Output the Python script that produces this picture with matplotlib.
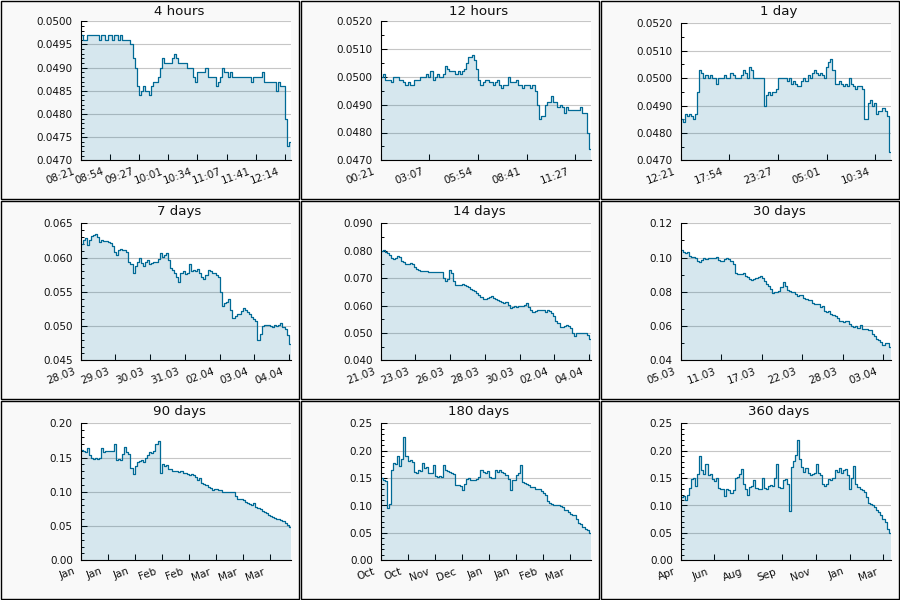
#!/usr/bin/env python3

"""Nine-panel price history grid (4 hours .. 360 days)."""

import matplotlib
matplotlib.use('Agg')
import matplotlib.pyplot as plt
import numpy as np
from matplotlib.patches import Rectangle
from matplotlib.ticker import FixedLocator, MultipleLocator, FormatStrFormatter
from matplotlib.transforms import ScaledTranslation

LINE = '#006a96'
PANEL_BG = '#f9f9f9'

titles = ['4 hours', '12 hours', '1 day', '7 days', '14 days', '30 days',
          '90 days', '180 days', '360 days']

# span of each panel and spacing of its x ticks, in seconds
durations = [14400, 43200, 86400, 604800, 1209600, 2592000,
             7776000, 15552000, 31104000]
tick_steps = [2000, 10000, 20000, 100000, 200000, 500000,
              1000000, 2000000, 5000000]

xlabels = [
    ['08:21', '08:54', '09:27', '10:01', '10:34', '11:07', '11:41', '12:14'],
    ['00:21', '03:07', '05:54', '08:41', '11:27'],
    ['12:21', '17:54', '23:27', '05:01', '10:34'],
    ['28.03', '29.03', '30.03', '31.03', '02.04', '03.04', '04.04'],
    ['21.03', '23.03', '26.03', '28.03', '30.03', '02.04', '04.04'],
    ['05.03', '11.03', '17.03', '22.03', '28.03', '03.04'],
    ['Jan', 'Jan', 'Jan', 'Feb', 'Feb', 'Mar', 'Mar', 'Mar'],
    ['Oct', 'Oct', 'Nov', 'Dec', 'Jan', 'Jan', 'Feb', 'Mar'],
    ['Apr', 'Jun', 'Aug', 'Sep', 'Nov', 'Jan', 'Mar'],
]

ylims = [(0.0470, 0.0500), (0.0470, 0.0520), (0.0470, 0.0520),
         (0.045, 0.065), (0.040, 0.090), (0.04, 0.12),
         (0.00, 0.20), (0.00, 0.25), (0.00, 0.25)]
ymajor = [0.0005, 0.0010, 0.0010, 0.005, 0.010, 0.02, 0.05, 0.05, 0.05]
yminor = [0.0001, 0.0005, 0.0005, 0.001, 0.005, 0.01, 0.01, 0.01, 0.01]
yfmt = ['%.4f', '%.4f', '%.4f', '%.3f', '%.3f', '%.2f', '%.2f', '%.2f', '%.2f']

v4h = [0.0497, 0.0496, 0.0496, 0.0497, 0.0497, 0.0497, 0.0497, 0.0497, 0.0497, 0.0496,
       0.0497, 0.0497, 0.0496, 0.0497, 0.0497, 0.0496, 0.0497, 0.0497, 0.0496, 0.0497,
       0.0496, 0.0496, 0.0496, 0.0496, 0.0495, 0.0492, 0.0490, 0.0486, 0.0484, 0.0485,
       0.0486, 0.0485, 0.0485, 0.0484, 0.0486, 0.0487, 0.0487, 0.0488, 0.0490, 0.0492,
       0.0491, 0.0491, 0.0491, 0.0491, 0.0492, 0.0493, 0.0492, 0.0491, 0.0491, 0.0491,
       0.0491, 0.0490, 0.0490, 0.0490, 0.0488, 0.0487, 0.0489, 0.0489, 0.0489, 0.0489,
       0.0490, 0.0488, 0.0488, 0.0488, 0.0488, 0.0486, 0.0487, 0.0488, 0.0490, 0.0489,
       0.0489, 0.0488, 0.0489, 0.0488, 0.0488, 0.0488, 0.0488, 0.0488, 0.0488, 0.0488,
       0.0488, 0.0488, 0.0487, 0.0488, 0.0488, 0.0488, 0.0488, 0.0489, 0.0487, 0.0487,
       0.0487, 0.0487, 0.0487, 0.0487, 0.0485, 0.0487, 0.0486, 0.0486, 0.0479, 0.0473,
       0.0474]

v12h = [0.0500, 0.0501, 0.0499, 0.0499, 0.0499, 0.0498, 0.0500, 0.0500, 0.0500, 0.0499,
        0.0499, 0.0498, 0.0497, 0.0498, 0.0497, 0.0497, 0.0499, 0.0499, 0.0499, 0.0500,
        0.0500, 0.0500, 0.0501, 0.0500, 0.0502, 0.0499, 0.0500, 0.0501, 0.0500, 0.0500,
        0.0501, 0.0504, 0.0503, 0.0502, 0.0502, 0.0502, 0.0501, 0.0502, 0.0501, 0.0502,
        0.0503, 0.0505, 0.0507, 0.0507, 0.0508, 0.0506, 0.0503, 0.0499, 0.0497, 0.0498,
        0.0499, 0.0499, 0.0498, 0.0498, 0.0497, 0.0498, 0.0499, 0.0497, 0.0496, 0.0497,
        0.0497, 0.0500, 0.0498, 0.0498, 0.0498, 0.0499, 0.0497, 0.0497, 0.0496, 0.0497,
        0.0497, 0.0497, 0.0496, 0.0497, 0.0495, 0.0490, 0.0485, 0.0486, 0.0486, 0.0490,
        0.0491, 0.0491, 0.0493, 0.0491, 0.0491, 0.0489, 0.0490, 0.0489, 0.0487, 0.0489,
        0.0488, 0.0488, 0.0488, 0.0488, 0.0488, 0.0488, 0.0489, 0.0487, 0.0487, 0.0480,
        0.0474]

v1d = [0.0485, 0.0484, 0.0487, 0.0486, 0.0487, 0.0486, 0.0485, 0.0487, 0.0495, 0.0503,
       0.0502, 0.0500, 0.0501, 0.0500, 0.0501, 0.0500, 0.0500, 0.0498, 0.0500, 0.0500,
       0.0500, 0.0501, 0.0500, 0.0500, 0.0502, 0.0501, 0.0500, 0.0500, 0.0500, 0.0501,
       0.0503, 0.0502, 0.0500, 0.0504, 0.0503, 0.0500, 0.0500, 0.0500, 0.0500, 0.0500,
       0.0490, 0.0494, 0.0495, 0.0494, 0.0495, 0.0495, 0.0496, 0.0500, 0.0500, 0.0500,
       0.0500, 0.0499, 0.0500, 0.0498, 0.0499, 0.0498, 0.0497, 0.0497, 0.0499, 0.0500,
       0.0499, 0.0501, 0.0500, 0.0502, 0.0503, 0.0502, 0.0501, 0.0502, 0.0501, 0.0500,
       0.0504, 0.0506, 0.0507, 0.0503, 0.0498, 0.0498, 0.0499, 0.0498, 0.0497, 0.0498,
       0.0497, 0.0500, 0.0498, 0.0497, 0.0496, 0.0497, 0.0497, 0.0496, 0.0485, 0.0485,
       0.0491, 0.0492, 0.0490, 0.0491, 0.0487, 0.0488, 0.0488, 0.0489, 0.0488, 0.0486,
       0.0473]

v7d = [0.0620, 0.0625, 0.0628, 0.0618, 0.0625, 0.0632, 0.0633, 0.0634, 0.0630, 0.0623,
       0.0625, 0.0624, 0.0624, 0.0622, 0.0621, 0.0617, 0.0608, 0.0604, 0.0611, 0.0612,
       0.0611, 0.0611, 0.0608, 0.0594, 0.0590, 0.0577, 0.0588, 0.0593, 0.0599, 0.0592,
       0.0587, 0.0594, 0.0597, 0.0590, 0.0592, 0.0594, 0.0594, 0.0598, 0.0606, 0.0601,
       0.0603, 0.0607, 0.0596, 0.0585, 0.0582, 0.0578, 0.0572, 0.0564, 0.0578, 0.0580,
       0.0576, 0.0578, 0.0590, 0.0580, 0.0582, 0.0581, 0.0583, 0.0578, 0.0572, 0.0568,
       0.0575, 0.0582, 0.0580, 0.0578, 0.0578, 0.0575, 0.0572, 0.0550, 0.0530, 0.0533,
       0.0535, 0.0539, 0.0524, 0.0512, 0.0515, 0.0517, 0.0517, 0.0522, 0.0526, 0.0524,
       0.0521, 0.0518, 0.0513, 0.0510, 0.0508, 0.0480, 0.0488, 0.0500, 0.0502, 0.0501,
       0.0502, 0.0500, 0.0498, 0.0501, 0.0500, 0.0502, 0.0505, 0.0498, 0.0496, 0.0487,
       0.0474]

v14d = [0.0800, 0.0802, 0.0797, 0.0790, 0.0785, 0.0772, 0.0770, 0.0772, 0.0781, 0.0778,
        0.0764, 0.0760, 0.0752, 0.0750, 0.0756, 0.0752, 0.0742, 0.0734, 0.0730, 0.0727,
        0.0726, 0.0727, 0.0725, 0.0724, 0.0724, 0.0724, 0.0724, 0.0723, 0.0724, 0.0722,
        0.0700, 0.0690, 0.0697, 0.0728, 0.0720, 0.0690, 0.0673, 0.0676, 0.0675, 0.0680,
        0.0676, 0.0672, 0.0668, 0.0660, 0.0655, 0.0652, 0.0645, 0.0637, 0.0630, 0.0622,
        0.0625, 0.0628, 0.0632, 0.0633, 0.0627, 0.0624, 0.0620, 0.0618, 0.0612, 0.0610,
        0.0612, 0.0603, 0.0590, 0.0595, 0.0598, 0.0596, 0.0597, 0.0600, 0.0598, 0.0603,
        0.0608, 0.0595, 0.0585, 0.0578, 0.0580, 0.0582, 0.0585, 0.0583, 0.0582, 0.0578,
        0.0585, 0.0580, 0.0574, 0.0560, 0.0545, 0.0535, 0.0520, 0.0522, 0.0526, 0.0528,
        0.0524, 0.0518, 0.0500, 0.0489, 0.0498, 0.0499, 0.0500, 0.0501, 0.0499, 0.0494,
        0.0476]

v30d = [0.1044, 0.1030, 0.1028, 0.1030, 0.1010, 0.1005, 0.1002, 0.1000, 0.0978, 0.0976,
        0.0985, 0.0998, 0.0994, 0.0998, 0.0996, 0.1000, 0.0998, 0.1003, 0.0985, 0.0980,
        0.0982, 0.0994, 0.0998, 0.0990, 0.0982, 0.0960, 0.0910, 0.0905, 0.0904, 0.0906,
        0.0910, 0.0890, 0.0884, 0.0872, 0.0870, 0.0876, 0.0882, 0.0885, 0.0890, 0.0878,
        0.0865, 0.0845, 0.0835, 0.0815, 0.0795, 0.0800, 0.0798, 0.0802, 0.0830, 0.0855,
        0.0835, 0.0810, 0.0805, 0.0800, 0.0798, 0.0786, 0.0778, 0.0783, 0.0780, 0.0765,
        0.0758, 0.0752, 0.0750, 0.0735, 0.0729, 0.0728, 0.0730, 0.0710, 0.0718, 0.0688,
        0.0684, 0.0686, 0.0670, 0.0665, 0.0660, 0.0645, 0.0632, 0.0628, 0.0625, 0.0630,
        0.0628, 0.0610, 0.0600, 0.0597, 0.0602, 0.0590, 0.0606, 0.0584, 0.0581, 0.0585,
        0.0578, 0.0575, 0.0552, 0.0540, 0.0525, 0.0518, 0.0505, 0.0490, 0.0500, 0.0502,
        0.0480]

v90d = [0.161, 0.160, 0.158, 0.164, 0.154, 0.150, 0.148, 0.149, 0.148, 0.149,
        0.164, 0.158, 0.160, 0.160, 0.159, 0.160, 0.170, 0.147, 0.148, 0.147,
        0.155, 0.165, 0.158, 0.155, 0.135, 0.126, 0.138, 0.144, 0.145, 0.146,
        0.143, 0.150, 0.154, 0.158, 0.156, 0.159, 0.170, 0.174, 0.128, 0.140,
        0.138, 0.139, 0.134, 0.134, 0.131, 0.130, 0.131, 0.129, 0.130, 0.128,
        0.128, 0.126, 0.125, 0.126, 0.124, 0.122, 0.117, 0.120, 0.113, 0.112,
        0.110, 0.107, 0.105, 0.103, 0.104, 0.104, 0.103, 0.102, 0.100, 0.099,
        0.099, 0.099, 0.100, 0.099, 0.094, 0.090, 0.089, 0.089, 0.088, 0.085,
        0.083, 0.082, 0.081, 0.084, 0.078, 0.076, 0.075, 0.072, 0.071, 0.069,
        0.066, 0.065, 0.063, 0.062, 0.060, 0.060, 0.059, 0.058, 0.054, 0.052,
        0.048]

v180d = [0.150, 0.146, 0.144, 0.095, 0.102, 0.165, 0.177, 0.175, 0.190, 0.172,
         0.185, 0.225, 0.190, 0.182, 0.183, 0.180, 0.162, 0.160, 0.165, 0.163,
         0.177, 0.168, 0.170, 0.159, 0.160, 0.174, 0.153, 0.152, 0.153, 0.152,
         0.174, 0.165, 0.163, 0.162, 0.160, 0.158, 0.137, 0.138, 0.136, 0.128,
         0.140, 0.148, 0.150, 0.147, 0.147, 0.146, 0.148, 0.152, 0.165, 0.162,
         0.160, 0.163, 0.152, 0.150, 0.150, 0.165, 0.162, 0.165, 0.162, 0.160,
         0.156, 0.148, 0.128, 0.147, 0.146, 0.156, 0.160, 0.174, 0.142, 0.141,
         0.140, 0.138, 0.133, 0.133, 0.131, 0.130, 0.130, 0.126, 0.122, 0.120,
         0.108, 0.105, 0.103, 0.101, 0.101, 0.100, 0.099, 0.097, 0.092, 0.091,
         0.088, 0.085, 0.083, 0.082, 0.075, 0.068, 0.066, 0.060, 0.058, 0.055,
         0.049]

v360d = [0.116, 0.118, 0.110, 0.120, 0.132, 0.148, 0.150, 0.135, 0.158, 0.190,
         0.165, 0.158, 0.175, 0.155, 0.157, 0.148, 0.145, 0.150, 0.132, 0.131,
         0.130, 0.118, 0.130, 0.128, 0.122, 0.128, 0.150, 0.152, 0.158, 0.166,
         0.140, 0.130, 0.120, 0.133, 0.135, 0.147, 0.132, 0.131, 0.130, 0.150,
         0.132, 0.130, 0.135, 0.138, 0.136, 0.150, 0.175, 0.134, 0.132, 0.146,
         0.148, 0.140, 0.090, 0.170, 0.182, 0.192, 0.220, 0.185, 0.170, 0.162,
         0.168, 0.160, 0.155, 0.158, 0.160, 0.175, 0.160, 0.155, 0.140, 0.135,
         0.140, 0.148, 0.146, 0.150, 0.165, 0.162, 0.168, 0.160, 0.165, 0.167,
         0.155, 0.130, 0.150, 0.172, 0.140, 0.133, 0.130, 0.128, 0.125, 0.115,
         0.105, 0.102, 0.100, 0.098, 0.092, 0.088, 0.082, 0.076, 0.070, 0.058,
         0.049]

series = [v4h, v12h, v1d, v7d, v14d, v30d, v90d, v180d, v360d]

# panel layout in pixels (900x600 canvas, 300x200 per panel)
W, H = 900, 600
PW, PH = 300, 200
AX_LEFT, AX_RIGHT, AX_BOTTOM = 80.5, 290.8, 160.3
ax_tops = [21.3, 21.3, 23.3, 23.3, 23.3, 23.3, 23.3, 23.3, 23.3]


def main():
    fig = plt.figure(figsize=(W / 100, H / 100), dpi=100, facecolor='white')

    for k in range(9):
        row, col = divmod(k, 3)
        x0, y0 = PW * col, PH * row

        # panel background with a thin black frame
        bw = 1.4
        fig.patches.append(Rectangle(
            ((x0 + bw / 2) / W, 1 - (y0 + PH - bw / 2) / H),
            (PW - bw) / W, (PH - bw) / H,
            transform=fig.transFigure, facecolor=PANEL_BG,
            edgecolor='black', lw=bw * 0.72, zorder=-5))

        top = ax_tops[k]
        ax = fig.add_axes([(x0 + AX_LEFT) / W,
                           1 - (y0 + AX_BOTTOM) / H,
                           (AX_RIGHT - AX_LEFT) / W,
                           (AX_BOTTOM - top) / H])
        ax.set_facecolor('white')

        # each sample holds until the next one; the last runs to the end
        vals = np.array(series[k])
        t = np.linspace(0, durations[k], len(vals) + 1)
        v = np.append(vals, vals[-1])
        lo, hi = ylims[k]

        ax.fill_between(t, v, lo, step='post', color=LINE,
                        alpha=0.16, lw=0, zorder=2)
        ax.plot(t, v, drawstyle='steps-post', color=LINE, lw=0.9,
                zorder=3)

        ax.set_xlim(0, durations[k])
        ax.set_ylim(lo, hi)

        ticks = np.arange(0, durations[k], tick_steps[k])
        ax.xaxis.set_major_locator(FixedLocator(ticks))
        ax.set_xticklabels(xlabels[k], rotation=20, ha='right')

        ax.yaxis.set_major_locator(MultipleLocator(ymajor[k]))
        ax.yaxis.set_minor_locator(MultipleLocator(yminor[k]))
        ax.yaxis.set_major_formatter(FormatStrFormatter(yfmt[k]))

        ax.yaxis.grid(True, which='major', color='#c6c6c6', lw=0.8,
                      zorder=1)
        ax.set_axisbelow(True)

        for side in ('top', 'right'):
            ax.spines[side].set_visible(False)
        for side in ('left', 'bottom'):
            ax.spines[side].set_color('black')
            ax.spines[side].set_linewidth(0.8)
            ax.spines[side].set_zorder(4)

        ax.tick_params(axis='both', which='major', direction='in',
                       length=4.3, width=0.75, colors='black',
                       labelsize=7.5, labelcolor='#111111')
        ax.tick_params(axis='y', which='major', pad=5.5)
        ax.tick_params(axis='x', which='major', pad=4.5)
        ax.tick_params(axis='y', which='minor', direction='in',
                       length=2.2, width=0.7, colors='black')
        ax.tick_params(axis='x', which='minor', bottom=False)

        # nudge rotated date labels a little left of their ticks
        shift = ScaledTranslation(-4 / 100, 0, fig.dpi_scale_trans)
        for lab in ax.get_xticklabels():
            lab.set_transform(lab.get_transform() + shift)

        fig.text((x0 + 179) / W, 1 - (y0 + 14.7) / H, titles[k],
                 ha='center', va='baseline', fontsize=9.6, color='#111111')

    fig.savefig('out.png', dpi=100, facecolor='white')


if __name__ == '__main__':
    main()
